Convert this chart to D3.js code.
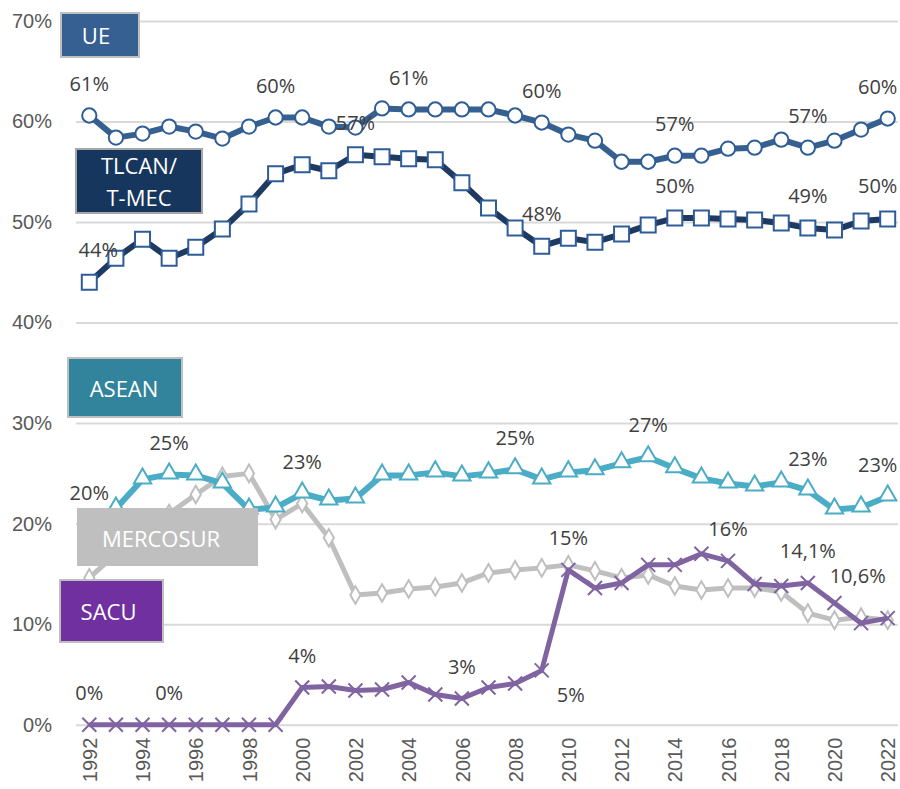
<!DOCTYPE html>
<html lang="es">

<head>
    <meta charset="UTF-8">
    <title>Comercio intrarregional</title>
    <style>
        body {
            margin: 0;
            background: #fff;
        }

        svg {
            font-family: "Open Sans", sans-serif;
        }

        .grid line {
            stroke: #d9d9d9;
            stroke-width: 2px;
        }

        .grid path,
        .axisX path {
            display: none;
        }

        .grid text,
        .axisX text {
            fill: #595959;
            font-size: 20px;
        }

        .line {
            fill: none;
            stroke-linejoin: round;
        }

        .dlabel {
            fill: #404040;
            font-size: 20px;
            text-anchor: middle;
        }

        .boxtext {
            fill: #fff;
            font-size: 22px;
            text-anchor: middle;
        }
    </style>
</head>

<body>
    <script src="https://d3js.org/d3.v7.min.js"></script>
    <script>
        // years
        var years = d3.range(1992, 2023);

        // share of intra-regional exports (%)
        var ue = [60.6, 58.4, 58.8, 59.5, 59.0, 58.3, 59.5, 60.4, 60.4, 59.5, 59.4,
            61.3, 61.2, 61.2, 61.2, 61.2, 60.6, 59.9, 58.7, 58.1, 56.0, 56.0,
            56.6, 56.6, 57.3, 57.4, 58.2, 57.4, 58.1, 59.2, 60.3];
        var tlcan = [44.0, 46.4, 48.3, 46.4, 47.5, 49.3, 51.8, 54.8, 55.7, 55.1, 56.7,
            56.5, 56.3, 56.2, 53.9, 51.4, 49.4, 47.6, 48.4, 48.0, 48.8, 49.7,
            50.4, 50.4, 50.3, 50.2, 49.9, 49.4, 49.2, 50.1, 50.3];
        var asean = [19.9, 21.5, 24.4, 24.9, 24.8, 24.0, 21.4, 21.6, 23.0, 22.3, 22.5,
            24.8, 24.8, 25.1, 24.7, 25.0, 25.4, 24.4, 25.1, 25.3, 26.0, 26.6,
            25.5, 24.5, 24.0, 23.7, 24.1, 23.3, 21.4, 21.6, 22.7];
        var mercosur = [14.6, 17.0, 19.2, 21.0, 22.9, 24.7, 25.0, 20.4, 22.0, 18.6, 12.9,
            13.1, 13.5, 13.7, 14.1, 15.1, 15.4, 15.6, 15.9, 15.3, 14.6, 14.9,
            13.8, 13.4, 13.6, 13.6, 13.2, 11.1, 10.4, 10.7, 10.4];
        var sacu = [0, 0, 0, 0, 0, 0, 0, 0, 3.7, 3.8, 3.4,
            3.5, 4.2, 3.0, 2.6, 3.7, 4.1, 5.4, 15.4, 13.6, 14.1, 15.9,
            15.9, 17.0, 16.3, 14.0, 13.8, 14.1, 12.1, 10.1, 10.6];

        // years that carry a data label, per series
        var ueLabels = [1992, 1999, 2004, 2009, 2014, 2019, 2022];
        var tlcanLabels = [1992, 2002, 2009, 2014, 2019, 2022];
        var aseanLabels = [1992, 1995, 2000, 2008, 2013, 2019, 2022];
        var sacuLabels = [1992, 1995, 2000, 2006, 2009, 2010, 2016, 2019, 2022];
        var oneDecimal = [2019, 2022]; // SACU labels shown with one decimal

        var yTicks = d3.range(0, 71, 10);
        var xTicks = d3.range(1992, 2023, 2);

        var es = d3.formatLocale({ decimal: ",", thousands: ".", grouping: [3], currency: ["", "€"] });

        var width = 900, height = 789;

        var x = d3.scaleLinear().domain([1992, 2022]).range([89.3, 887.7]);
        var y = d3.scaleLinear().domain([0, 70]).range([724.7, 21]);

        var svg = d3.select("body").append("svg")
            .attr("width", width)
            .attr("height", height);

        // gridlines + y tick labels
        svg.append("g")
            .attr("class", "grid")
            .attr("transform", "translate(76,0)")
            .call(d3.axisLeft(y)
                .tickValues(yTicks)
                .tickSize(-822)
                .tickPadding(24)
                .tickFormat(function (d) { return d + "%"; }));

        // x axis, rotated years
        svg.append("g")
            .attr("class", "axisX")
            .attr("transform", "translate(0," + y(0) + ")")
            .call(d3.axisBottom(x)
                .tickValues(xTicks)
                .tickSize(0)
                .tickFormat(d3.format("d")));

        svg.selectAll(".axisX .tick text")
            .attr("transform", "rotate(-90)")
            .attr("text-anchor", "end")
            .attr("x", -13)
            .attr("y", 0)
            .attr("dy", "0.36em");

        var series = [
            { name: "MERCOSUR", values: mercosur, color: "#bfbfbf", mcolor: "#bfbfbf", w: 5, marker: "diamond" },
            { name: "ASEAN", values: asean, color: "#4bacc6", mcolor: "#4bacc6", w: 6, marker: "triangle" },
            { name: "SACU", values: sacu, color: "#8064a2", mcolor: "#8064a2", w: 5, marker: "x" },
            { name: "TLCAN", values: tlcan, color: "#1f3a60", mcolor: "#2e5c99", w: 6, marker: "square" },
            { name: "UE", values: ue, color: "#35608f", mcolor: "#2f5d95", w: 6, marker: "circle" }
        ];

        var line = d3.line()
            .x(function (d, i) { return x(years[i]); })
            .y(function (d) { return y(d); });

        var symbols = {
            diamond: d3.symbol().type(d3.symbolDiamond).size(90),
            triangle: d3.symbol().type(d3.symbolTriangle).size(130),
            square: d3.symbol().type(d3.symbolSquare).size(225),
            circle: d3.symbol().type(d3.symbolCircle).size(160)
        };

        series.forEach(function (s) {
            var g = svg.append("g");
            g.append("path")
                .datum(s.values)
                .attr("class", "line")
                .attr("stroke", s.color)
                .attr("stroke-width", s.w)
                .attr("d", line);

            var pts = g.selectAll(".pt")
                .data(s.values)
                .enter().append("g")
                .attr("transform", function (d, i) {
                    return "translate(" + x(years[i]) + "," + y(d) + ")";
                });

            if (s.marker === "x") {
                pts.append("path")
                    .attr("d", "M-7,-7L7,7M-7,7L7,-7")
                    .attr("stroke", s.mcolor)
                    .attr("stroke-width", 2)
                    .attr("fill", "none");
            } else {
                pts.append("path")
                    .attr("d", symbols[s.marker])
                    .attr("transform", s.marker === "triangle" ? "translate(0,-1)" : null)
                    .attr("fill", "#fff")
                    .attr("stroke", s.mcolor)
                    .attr("stroke-width", 2);
            }
        });

        // annotation boxes
        var boxes = [
            { lines: ["UE"], x: 61, y: 13, w: 78, h: 44, fill: "#376092", border: "#bfbfbf", tx: 96, ty: [36] },
            { lines: ["TLCAN/", "T-MEC"], x: 76, y: 149, w: 126, h: 64, fill: "#17365d", border: "#a6a6a6", tx: 139, ty: [166, 198] },
            { lines: ["ASEAN"], x: 68, y: 358, w: 114, h: 59, fill: "#31849b", border: "#bfbfbf", tx: 124, ty: [388.5] },
            { lines: ["MERCOSUR"], x: 78, y: 509, w: 179, h: 56, fill: "#bfbfbf", border: "#bfbfbf", tx: 161, ty: [538.5] },
            { lines: ["SACU"], x: 60, y: 580, w: 103, h: 62, fill: "#7030a0", border: "#bfbfbf", tx: 108.5, ty: [611.5] }
        ];

        boxes.forEach(function (b) {
            svg.append("rect")
                .attr("x", b.x).attr("y", b.y)
                .attr("width", b.w).attr("height", b.h)
                .attr("fill", b.fill)
                .attr("stroke", b.border)
                .attr("stroke-width", 2);
            b.lines.forEach(function (t, i) {
                svg.append("text")
                    .attr("class", "boxtext")
                    .attr("x", b.tx)
                    .attr("y", b.ty[i] + 8)
                    .text(t);
            });
        });

        // data labels: placed above the point, a few nudged off it
        var nudge = {
            "TLCAN1992": [9, -33],
            "SACU2009": [29, 24],
            "SACU2022": [-30, -42],
            "UE2022": [-10, -32],
            "TLCAN2022": [-10, -33],
            "ASEAN2022": [-10, -32]
        };

        function addLabels(name, values, labelYears) {
            labelYears.forEach(function (yr) {
                var v = values[yr - 1992];
                var off = nudge[name + yr] || [0, -32];
                var fmt = (name === "SACU" && oneDecimal.indexOf(yr) >= 0) ? es.format(".1f") : es.format(".0f");
                svg.append("text")
                    .attr("class", "dlabel")
                    .attr("x", x(yr) + off[0])
                    .attr("y", y(v) + off[1])
                    .attr("dy", "0.36em")
                    .text(fmt(v) + "%");
            });
        }

        addLabels("UE", ue, ueLabels);
        addLabels("TLCAN", tlcan, tlcanLabels);
        addLabels("ASEAN", asean, aseanLabels);
        addLabels("SACU", sacu, sacuLabels);
    </script>
</body>

</html>
